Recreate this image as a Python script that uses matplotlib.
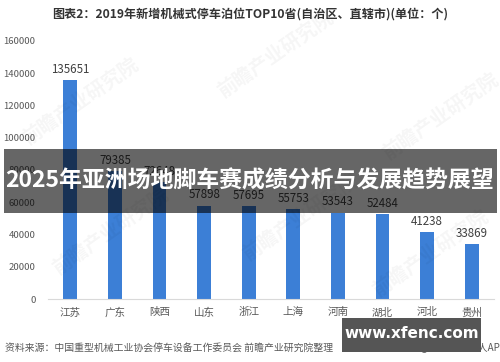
#Recreating the 2019 new mechanical parking spaces top-10 provinces bar chart
import matplotlib
matplotlib.use('Agg')
import matplotlib.pyplot as plt
from matplotlib.patches import Rectangle
import numpy as np

plt.rcParams['font.family'] = ['Noto Sans CJK SC', 'DejaVu Sans']

#Defining variables
provinces = ['江苏', '广东', '陕西', '山东', '浙江', '上海', '河南', '湖北', '河北', '贵州']
spaces = [135651, 79385, 72648, 57898, 57695, 55753, 53543, 52484, 41238, 33869]
y_ticks = [0, 20000, 40000, 60000, 80000, 100000, 120000, 140000, 160000]

title = '图表2：2019年新增机械式停车泊位TOP10省(自治区、直辖市)(单位：个)'
source = '资料来源：中国重型机械工业协会停车设备工作委员会 前瞻产业研究院整理'
banner = '2025年亚洲场地脚车赛成绩分析与发展趋势展望'

fig = plt.figure(figsize=(5, 3.62), dpi=100)
ax = fig.add_axes([0.096, 0.174, 0.892, 0.713])

x = np.arange(len(provinces))
bars = ax.bar(x, spaces, width=0.31, color='#3C7FD6')
for b, v in zip(bars, spaces):
    ax.annotate(str(v), (b.get_x() + b.get_width() / 2, v), xytext=(0, 3),
                textcoords='offset points', ha='center', va='bottom',
                fontsize=8.3, color='#404040')

ax.set_xlim(-0.5, len(provinces) - 0.5)
ax.set_ylim(0, 160000)
ax.set_xticks(x)
ax.set_xticklabels(provinces, fontsize=7.6, color='#595959')
ax.set_yticks(y_ticks)
ax.set_yticklabels([str(t) for t in y_ticks], fontsize=6.9, color='#595959')
ax.tick_params(length=0)
ax.tick_params(axis='x', pad=6)
ax.tick_params(axis='y', pad=9)
for s in ['top', 'right', 'left']:
    ax.spines[s].set_visible(False)
ax.spines['bottom'].set_color('#D9D9D9')

#faint watermarks
for wx, wy in [(0.16, 0.72), (0.55, 0.85), (0.88, 0.68), (0.22, 0.36), (0.6, 0.4), (0.86, 0.3)]:
    fig.text(wx, wy, '前瞻产业研究院', fontsize=14, rotation=35, color='#000000',
             alpha=0.04, ha='center', va='center', fontweight='bold')

fig.text(0.5, 0.962, title, ha='center', va='center', fontsize=8.7,
         fontweight='bold', color='#333333')
fig.text(0.01, 0.04, source, ha='left', va='center', fontsize=7.1, color='#595959')
fig.text(0.84, 0.04, '@前瞻经济学人APP', ha='left', va='center', fontsize=7.1, color='#595959')

#overlay banner
fig.patches.append(Rectangle((0.008, 0.4116), 0.986, 0.1768, transform=fig.transFigure,
                             facecolor='black', alpha=0.6, zorder=5, linewidth=0))
fig.text(0.5, 0.50, banner, ha='center', va='center', fontsize=16.5,
         fontweight='bold', color='white', zorder=6)

#site label box
fig.patches.append(Rectangle((0.684, 0.0276), 0.278, 0.094, transform=fig.transFigure,
                             facecolor='#555555', zorder=5, linewidth=0))
fig.text(0.823, 0.078, 'www.xfenc.com', ha='center', va='center', fontsize=11,
         fontweight='bold', color='white', family='DejaVu Sans', zorder=6)

fig.savefig('out.png', dpi=100)
